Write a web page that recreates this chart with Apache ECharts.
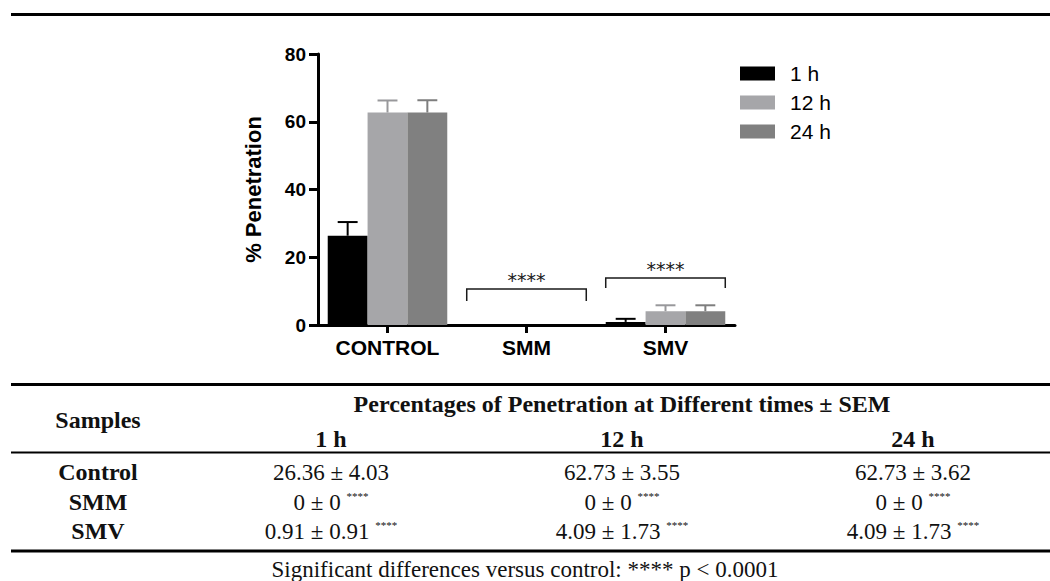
<!DOCTYPE html>
<html>
<head>
<meta charset="utf-8">
<script src="https://cdn.jsdelivr.net/npm/echarts@6/dist/echarts.min.js"></script>
<style>
html,body{margin:0;padding:0;background:#fff;}
#chart{width:1050px;height:581px;}
</style>
</head>
<body>
<div id="chart"></div>
<script>
// ---- data ----
var categories = ['CONTROL', 'SMM', 'SMV'];
var seriesNames = ['1 h', '12 h', '24 h'];
var mean1h = [26.36, 0, 0.91];
var sem1h = [4.03, 0, 0.91];
var mean12h = [62.73, 0, 4.09];
var sem12h = [3.55, 0, 1.73];
var mean24h = [62.73, 0, 4.09];
var sem24h = [3.62, 0, 1.73];
var yMin = 0, yMax = 80, yInterval = 20;
var yAxisName = '% Penetration';
var sigCategories = ['SMM', 'SMV'];
var sigLabel = '****';
var bracketLegBottom = [7.1, 10.9];
var bracketTop = [10.6, 13.9];
var tableRowNames = ['Control', 'SMM', 'SMV'];
var tableRowSig = [false, true, true];
var tableFirstHeader = 'Samples';
var tableTitle = 'Percentages of Penetration at Different times \u00B1 SEM';
var tableNote = 'Significant differences versus control: **** p < 0.0001';

// ---- build ----
var means = [mean1h, mean12h, mean24h];
var sems = [sem1h, sem12h, sem24h];
var barColors = ['#000000', '#a6a6a9', '#808080'];
var errColors = ['#000000', '#98989b', '#7e7e7e'];
var catGap = 0.14;
var SANS = '"Liberation Sans", Arial, sans-serif';
var SERIF = '"Liberation Serif", "Times New Roman", serif';

function errRender(k) {
  return function (params, api) {
    var ci = api.value(0), m = api.value(1), s = api.value(2);
    if (!(s > 0)) return null;
    var base = api.coord([ci, m]);
    var top = api.coord([ci, m + s]);
    var band = api.size([1, 0])[0];
    var bw = band * (1 - catGap) / 3;
    var cx = base[0] + (k - 1) * bw;
    var cap = bw * 0.25;
    return {
      type: 'group',
      children: [
        {type: 'line', shape: {x1: cx, y1: base[1], x2: cx, y2: top[1]}, style: {stroke: errColors[k], lineWidth: 2}},
        {type: 'line', shape: {x1: cx - cap, y1: top[1], x2: cx + cap, y2: top[1]}, style: {stroke: errColors[k], lineWidth: 2}}
      ]
    };
  };
}

var series = [];
seriesNames.forEach(function (nm, k) {
  series.push({
    name: nm, type: 'bar', data: means[k],
    barGap: '0%', barCategoryGap: (catGap * 100) + '%',
    itemStyle: {color: barColors[k]}, z: 2
  });
});
seriesNames.forEach(function (nm, k) {
  series.push({
    name: 'err ' + nm, type: 'custom', z: 3,
    data: categories.map(function (c, i) { return [i, means[k][i], sems[k][i]]; }),
    renderItem: errRender(k), silent: true
  });
});
series.push({
  name: 'sig', type: 'custom', z: 4, silent: true,
  data: sigCategories.map(function (c, i) { return [categories.indexOf(c), bracketLegBottom[i], bracketTop[i]]; }),
  renderItem: function (params, api) {
    var ci = api.value(0);
    var lo = api.coord([ci, api.value(1)]);
    var hi = api.coord([ci, api.value(2)]);
    var half = api.size([1, 0])[0] * (1 - catGap) / 2;
    return {
      type: 'group',
      children: [
        {type: 'polyline', shape: {points: [[lo[0] - half, lo[1]], [lo[0] - half, hi[1]], [lo[0] + half, hi[1]], [lo[0] + half, lo[1]]]},
          style: {stroke: '#1a1a1a', fill: 'none', lineWidth: 1.5}},
        {type: 'text', style: {text: sigLabel, x: lo[0], y: hi[1] - 9, align: 'center', verticalAlign: 'middle',
          fontSize: 19, fontFamily: '"DejaVu Sans", sans-serif', fill: '#1a1a1a'}}
      ]
    };
  }
});

// table graphics
var colX = [331, 622, 913];
var rowY = [472, 502, 531];
var g = [];
function hline(y, w) {
  g.push({type: 'line', shape: {x1: 11, y1: y, x2: 1050, y2: y}, style: {stroke: '#000', lineWidth: w}, silent: true});
}
hline(14.5, 3); hline(384.5, 3); hline(452.5, 2); hline(551, 3);
function txt(t, x, y, size, weight) {
  g.push({type: 'text', x: x, y: y, silent: true,
    style: {text: t, align: 'center', verticalAlign: 'middle', fontSize: size, fontWeight: weight, fontFamily: SERIF, fill: '#111'}});
}
txt(tableTitle, 622, 403.5, 24, 'bold');
txt(tableFirstHeader, 98, 420, 24, 'bold');
seriesNames.forEach(function (nm, k) { txt(nm, colX[k], 439, 24, 'bold'); });
tableRowNames.forEach(function (nm, i) {
  txt(nm, 98, rowY[i], 24, 'bold');
  seriesNames.forEach(function (s, k) {
    var main = String(means[k][i]) + ' \u00B1 ' + String(sems[k][i]);
    var t = '{m|' + main + '}' + (tableRowSig[i] ? '{m| }{s|' + sigLabel + '}' : '');
    g.push({type: 'text', x: colX[k], y: rowY[i], silent: true,
      style: {text: t, align: 'center', verticalAlign: 'middle', fill: '#111',
        rich: {
          m: {fontSize: 23, fontFamily: SERIF, fill: '#111', lineHeight: 24},
          s: {fontSize: 11, fontFamily: SERIF, fill: '#111', lineHeight: 24, verticalAlign: 'top'}
        }}});
  });
});
txt(tableNote, 525, 569, 23, 'normal');

var chart = echarts.init(document.getElementById('chart'), null, {renderer: 'svg'});
chart.setOption({
  animation: false,
  backgroundColor: '#fff',
  grid: {left: 318, top: 54, width: 417, height: 271, containLabel: false},
  legend: {
    data: seriesNames, orient: 'vertical', left: 735, top: 58,
    itemWidth: 35, itemHeight: 14, itemGap: 8, icon: 'rect',
    textStyle: {fontSize: 21, color: '#000', fontFamily: SANS, padding: [0, 0, 0, 10]},
    selectedMode: false
  },
  xAxis: {
    type: 'category', data: categories,
    axisLine: {show: true, lineStyle: {color: '#000', width: 3}},
    axisTick: {show: true, alignWithLabel: true, length: 8, lineStyle: {color: '#000', width: 3}},
    axisLabel: {color: '#000', fontSize: 21, fontWeight: 'bold', fontFamily: SANS, margin: 12},
    splitLine: {show: false}
  },
  yAxis: {
    type: 'value', min: yMin, max: yMax, interval: yInterval,
    name: yAxisName, nameLocation: 'middle', nameRotate: 90, nameGap: 54,
    nameTextStyle: {color: '#000', fontSize: 22, fontWeight: 'bold', fontFamily: SANS},
    axisLine: {show: true, lineStyle: {color: '#000', width: 3}},
    axisTick: {show: true, length: 9, lineStyle: {color: '#000', width: 3}},
    axisLabel: {color: '#000', fontSize: 19, fontWeight: 'bold', fontFamily: SANS, margin: 12},
    splitLine: {show: false}
  },
  series: series,
  graphic: g
});
</script>
</body>
</html>
